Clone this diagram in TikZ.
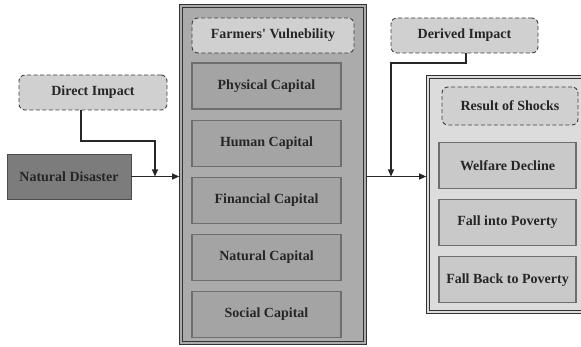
\documentclass[tikz,border=0pt]{standalone}
\usepackage{fontspec}
\setmainfont{Liberation Serif}
\usetikzlibrary{arrows.meta,positioning}
\definecolor{disastergray}{HTML}{7C7C7C}
\definecolor{vulngray}{HTML}{ABABAB}
\definecolor{capgray}{HTML}{A4A4A4}
\definecolor{dashgray}{HTML}{D0D0D0}
\definecolor{resultgray}{HTML}{DCDCDC}
\definecolor{shockgray}{HTML}{C9C9C9}
\definecolor{edgegray}{HTML}{6E6E6E}

\begin{document}
\begin{tikzpicture}[
    x=1pt, y=-1pt,
    node distance=10pt,
    txt/.style={font=\fontsize{14}{16}\selectfont\bfseries, text=black!85, align=center, inner sep=2pt},
    dashbox/.style={txt, draw=black!75, dashed, dash pattern=on 4pt off 2.5pt, rounded corners=6pt,
                    fill=dashgray, line width=0.9pt, minimum height=35pt},
    capbox/.style={txt, draw=edgegray, fill=capgray, line width=1.1pt, minimum width=149pt, minimum height=46pt},
    shockbox/.style={txt, draw=edgegray, fill=shockgray, line width=1.1pt, minimum width=137pt, minimum height=46pt},
    frame/.style={draw=black!80, line width=1pt, double distance=1.6pt, outer sep=1.8pt},
    arr/.style={-{Triangle[length=7pt, width=6pt]}, line width=1.1pt, black!85}
]
\useasboundingbox (0,0) rectangle (581,347);

% --- left: the shock ---
\node[txt, draw=black!70, fill=disastergray, line width=0.9pt, minimum width=124pt, minimum height=45pt]
    (disaster) at (69,176.5) {Natural Disaster};
\node[dashbox, minimum width=148pt] (direct) at (93,92.5) {Direct Impact};

% --- middle: vulnerability frame ---
\node[frame, double=vulngray, fill=vulngray, minimum width=184pt, minimum height=337pt] (vuln) at (273,174.5) {};
\node[dashbox, minimum width=162pt] (farmers) at (273,35.5) {Farmers\textquotesingle\ Vulnebility};
\node[capbox] (physical) at (266.5,86) {Physical Capital};
\node[capbox, below=of physical] (human) {Human Capital};
\node[capbox, below=of human] (financial) {Financial Capital};
\node[capbox, below=of financial] (natural) {Natural Capital};
\node[capbox, below=of natural] (social) {Social Capital};

% --- right: results ---
\node[dashbox, minimum width=147pt] (derived) at (464.5,35.5) {Derived Impact};
\node[frame, double=resultgray, fill=resultgray, minimum width=158pt, minimum height=235pt] (result) at (507,194.5) {};
\node[dashbox, minimum width=136pt, minimum height=38pt] (shocks) at (510,106) {Result of Shocks};
\node[shockbox] (welfare) at (507.5,165.5) {Welfare Decline};
\node[shockbox, below=of welfare] (poverty) {Fall into Poverty};
\node[shockbox, below=of poverty] (backpoverty) {Fall Back to Poverty};

% connectors
\coordinate (directjoin) at (155,176.5);
\coordinate (derivedjoin) at (391,176.5);
\draw[arr] (disaster.east) -- (vuln.west |- disaster.east);
\draw[arr] (direct.south -| 81,0) -- (81,141) -| (directjoin);
\draw[arr] (vuln.east |- disaster.east) -- (result.west |- disaster.east);
\draw[arr] (derived.south -| 466,0) -- (466,63) -| (derivedjoin);

\end{tikzpicture}
\end{document}
